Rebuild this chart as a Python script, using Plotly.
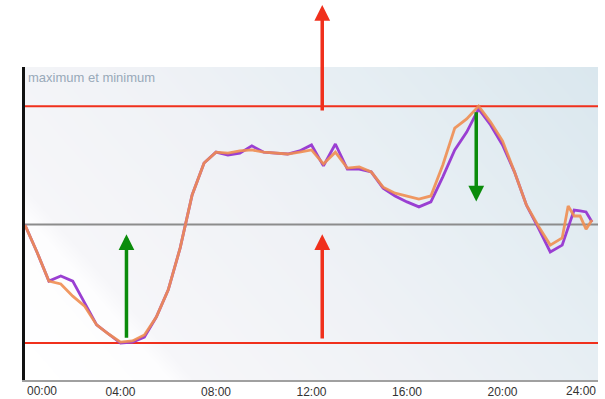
import numpy as np
import plotly.graph_objects as go

# ---------------- data ----------------
times = [0, 0.5, 1, 1.5, 2, 2.5, 3, 3.5, 4, 4.5, 5, 5.5, 6, 6.5, 7, 7.5, 8, 8.5,
         9, 9.5, 10, 10.5, 11, 11.5, 12, 12.5, 13, 13.5, 14, 14.5, 15, 15.5, 16,
         16.5, 17, 17.5, 18, 18.5, 19, 19.5, 20, 20.5, 21, 21.5, 22, 22.5, 22.75,
         23, 23.25, 23.5, 23.75]

series_purple = [49.5, 40.9, 31.6, 33.2, 31.6, 24.6, 17.6, 14.7, 11.8, 12.1, 13.7,
                 20.1, 28.8, 42.2, 59.1, 69.3, 72.8, 71.9, 72.5, 74.8, 72.8, 72.5,
                 72.2, 73.2, 75.1, 68.4, 75.4, 67.4, 67.4, 66.5, 61.3, 58.8, 56.9,
                 55.3, 56.9, 64.9, 73.5, 79.2, 86.6, 81.5, 75.1, 66.5, 55.9, 48.6,
                 40.9, 43.1, 48.6, 54.3, 54.0, 53.7, 50.5]

series_orange = [49.5, 40.9, 31.6, 30.7, 26.8, 23.6, 17.6, 14.7, 12.1, 12.5, 14.4,
                 20.1, 28.8, 42.2, 59.1, 69.3, 72.8, 72.5, 73.2, 73.5, 72.8, 72.5,
                 72.2, 72.8, 73.5, 69.0, 72.8, 67.7, 68.1, 66.5, 61.6, 59.7, 58.8,
                 57.8, 58.8, 68.7, 80.5, 83.4, 87.5, 82.4, 76.4, 66.5, 55.9, 49.2,
                 43.1, 45.4, 55.6, 52.4, 52.4, 48.2, 51.1]

tick_hours = [0, 4, 8, 12, 16, 20, 24]
tick_labels = ["00:00", "04:00", "08:00", "12:00", "16:00", "20:00", "24:00"]
title_text = "maximum et minimum"

# arrow positions (hours) and extents (value units)
arrow_up_green = dict(x=4.25, y_from=13.0, y_to=46.6)
arrow_up_red_low = dict(x=12.45, y_from=12.8, y_to=46.6)
arrow_down_green = dict(x=18.9, y_from=86.0, y_to=57.0)
arrow_up_red_top = dict(x=12.45, y_from=85.6)

Y_RANGE = [0, 100]
X_RANGE = [0, 24]

y_max = max(max(series_purple), max(series_orange))
y_min = min(min(series_purple), min(series_orange))
y_mid = (y_max + y_min) / 2

RED = "#f0301c"
GREEN = "#0b8c0b"
PURPLE = "#9a3fd2"
ORANGE = "#f08e52"

fig = go.Figure()

# ------------- background gradient -------------
gx = np.linspace(-0.5, 24.5, 80)
gy = np.linspace(-2, 102, 60)
GX, GY = np.meshgrid(gx, gy)
tval = (1.14 * (GX / 24.0) * 573 + (GY / 100.0) * 313) / 966.0
tval = np.clip(tval, 0, 1)
bg_scale = [
    [0.0, "#ffffff"],
    [0.17, "#fdfdfe"],
    [0.20, "#f6f6f9"],
    [0.45, "#f0f2f6"],
    [0.70, "#e6eef3"],
    [1.0, "#dae7ee"],
]
fig.add_trace(go.Heatmap(x=gx, y=gy, z=tval, colorscale=bg_scale, zmin=0, zmax=1,
                         zsmooth="best", showscale=False, hoverinfo="skip"))

# ------------- reference lines -------------
fig.add_trace(go.Scatter(x=X_RANGE, y=[y_mid, y_mid], mode="lines",
                         line=dict(color="#8c8c8c", width=2), hoverinfo="skip"))
fig.add_trace(go.Scatter(x=X_RANGE, y=[y_max, y_max], mode="lines",
                         line=dict(color=RED, width=2), hoverinfo="skip"))
fig.add_trace(go.Scatter(x=X_RANGE, y=[y_min, y_min], mode="lines",
                         line=dict(color=RED, width=2), hoverinfo="skip"))

# ------------- series -------------
fig.add_trace(go.Scatter(x=times, y=series_purple, mode="lines",
                         line=dict(color=PURPLE, width=2.8), name="a"))
fig.add_trace(go.Scatter(x=times, y=series_orange, mode="lines",
                         line=dict(color=ORANGE, width=2.8), opacity=0.9, name="b"))

# ------------- arrows -------------
def arrow(d, color):
    return dict(x=d["x"], y=d["y_to"], xref="x", yref="y",
                ax=d["x"], ay=d["y_from"], axref="x", ayref="y",
                text="", showarrow=True, arrowhead=2, arrowsize=0.9,
                arrowwidth=3.5, arrowcolor=color, standoff=0)

annotations = [
    arrow(arrow_up_green, GREEN),
    arrow(arrow_up_red_low, RED),
    arrow(arrow_down_green, GREEN),
    dict(x=arrow_up_red_top["x"], y=1.198, xref="x", yref="paper",
         ax=0, ay=107, axref="pixel", ayref="pixel",
         text="", showarrow=True, arrowhead=2, arrowsize=0.9,
         arrowwidth=3.5, arrowcolor=RED, standoff=0),
    dict(x=0, y=1, xref="paper", yref="paper", xanchor="left", yanchor="top",
         xshift=1, yshift=-1, text=title_text, showarrow=False,
         font=dict(family="Liberation Sans, Arial", size=13, color="#98a9b9")),
    dict(x=tick_hours[0], y=0, xref="x", yref="paper", xanchor="left", yanchor="top",
         yshift=-2, text=tick_labels[0], showarrow=False,
         font=dict(family="Liberation Sans, Arial", size=12, color="#333333")),
    dict(x=tick_hours[-1], y=0, xref="x", yref="paper", xanchor="right", yanchor="top",
         yshift=-2, text=tick_labels[-1], showarrow=False,
         font=dict(family="Liberation Sans, Arial", size=12, color="#333333")),
]

fig.update_layout(
    width=605, height=399,
    margin=dict(l=25, r=7, t=67, b=19, autoexpand=False),
    paper_bgcolor="white", plot_bgcolor="white",
    showlegend=False,
    annotations=annotations,
    xaxis=dict(range=X_RANGE, tickvals=tick_hours[1:-1], ticktext=tick_labels[1:-1],
               showgrid=False, zeroline=False, showline=True, linecolor="#a0a0a0",
               linewidth=2, ticks="", fixedrange=True, automargin=False,
               tickfont=dict(family="Liberation Sans, Arial", size=12, color="#333333")),
    yaxis=dict(range=Y_RANGE, showticklabels=False, showgrid=False, zeroline=False,
               showline=True, linecolor="#111111", linewidth=2.5, ticks="",
               fixedrange=True, automargin=False),
)

fig.write_html("out.html", config={"displayModeBar": False},
               post_script="document.body.style.margin='0px';document.body.style.overflow='hidden';")
